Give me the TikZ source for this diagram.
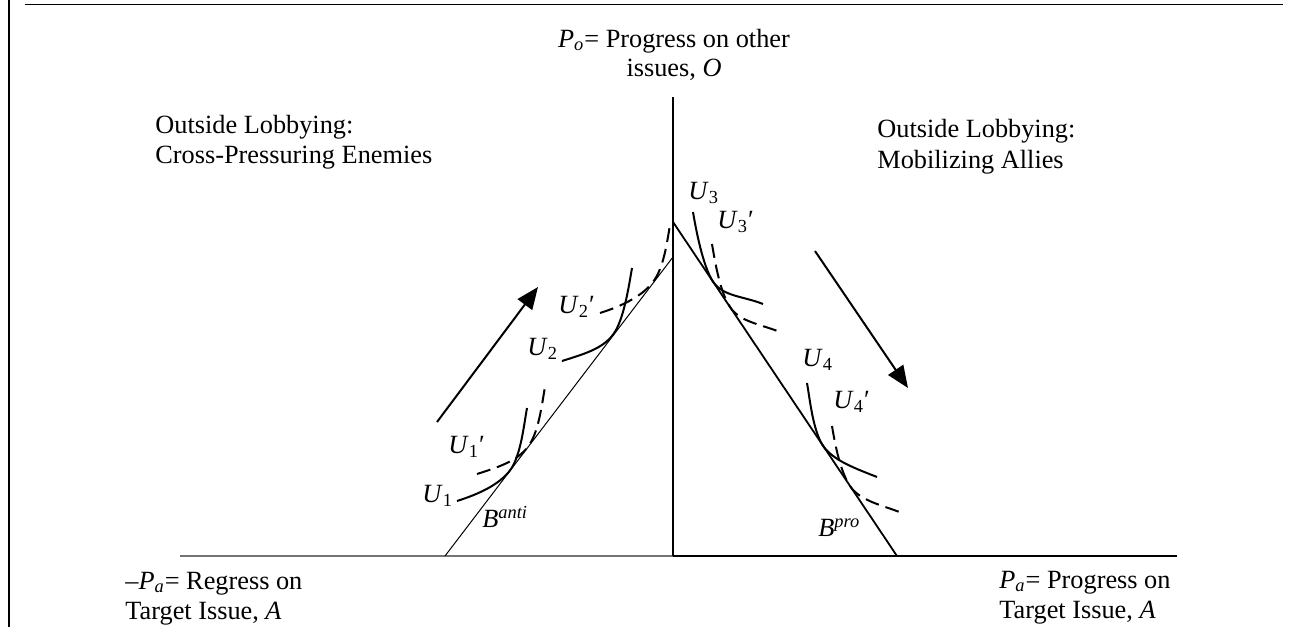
\documentclass[tikz,border=0pt]{standalone}
\usepackage{fontspec}
\setmainfont{Liberation Serif}
\usetikzlibrary{arrows.meta}
\begin{document}
\begin{tikzpicture}[x=0.5pt,y=-0.5pt,
  lbl/.style={inner sep=0pt, font=\fontsize{13.15pt}{15pt}\selectfont},
  curve/.style={line width=1pt},
  dcurve/.style={line width=1pt, dash pattern=on 7pt off 3.5pt},
  bigarrow/.style={line width=1pt, -{Triangle[length=11pt,width=9pt]}}]
\useasboundingbox (0,0) rectangle (1296,627);
% frame lines
\coordinate (fl1) at (9,0);
\coordinate (fl2) at (9,627);
\coordinate (tl1) at (25,4.5);
\coordinate (tl2) at (1283,4.5);
\draw[line width=0.8pt] (fl1) -- (fl2);
\draw[line width=0.8pt] (tl1) -- (tl2);
% axes
\coordinate (O) at (673,556);
\coordinate (yt) at (673,97);
\coordinate (xl) at (180,556);
\coordinate (xr) at (1177,556);
\draw[line width=0.6pt, black!55] (xl) -- (O);
\draw[line width=1pt] (O) -- (xr);
\draw[line width=0.8pt] (O) -- (yt);
% budget lines
\coordinate (ba1) at (445,556);
\coordinate (ba2) at (673,257);
\coordinate (bp1) at (673,222);
\coordinate (bp2) at (897,556);
\draw[line width=0.5pt] (ba1) -- (ba2);
\draw[line width=0.9pt] (bp1) -- (bp2);
% left indifference curves
\draw[curve] (457,501) .. controls (479,494) and (499.1,484.7) .. (510,470.4)
             .. controls (520.9,456.0) and (524,424) .. (527,408);
\draw[dcurve] (477,474) .. controls (499,467) and (517.1,461.0) .. (528,446.7)
             .. controls (538.9,432.4) and (542,403) .. (545,387);
\draw[curve] (562,361) .. controls (584,354) and (602.1,349.0) .. (613,334.7)
             .. controls (623.9,320.4) and (629,285) .. (632,268);
\draw[dcurve] (600,313) .. controls (622,306) and (642.1,296.3) .. (653,282)
             .. controls (663.9,267.7) and (667,242) .. (670,225);
% right indifference curves
\draw[curve] (693,212) .. controls (696,230) and (703.0,266.6) .. (713,281.6)
             .. controls (723.0,296.6) and (743,296) .. (763,304);
\draw[dcurve] (712,244) .. controls (715,262) and (720.0,292.0) .. (730,307)
             .. controls (740.0,322.0) and (760,324) .. (780,332);
\draw[curve] (807,383) .. controls (810,400) and (813.0,430.7) .. (823,445.7)
             .. controls (833.0,460.7) and (857,469) .. (877,477);
\draw[dcurve] (832,426) .. controls (835,444) and (840.0,471.0) .. (850,486)
             .. controls (860.0,501.0) and (882,505) .. (902,513);
% arrows
\coordinate (la1) at (437,422);
\coordinate (la2) at (538,287);
\coordinate (ra1) at (815,251);
\coordinate (ra2) at (908,388);
\draw[bigarrow] (la1) -- (la2);
\draw[bigarrow] (ra1) -- (ra2);
% curve labels
\node[lbl, anchor=west] (u1) at (422,496) {\textit{U}\textsubscript{1}};
\node[lbl, anchor=west] (u1p) at (448,447) {\textit{U}\textsubscript{1}′};
\node[lbl, anchor=west] (u2) at (527,349) {\textit{U}\textsubscript{2}};
\node[lbl, anchor=west] (u2p) at (558,307) {\textit{U}\textsubscript{2}′};
\node[lbl, anchor=west] (u3) at (688,193) {\textit{U}\textsubscript{3}};
\node[lbl, anchor=west] (u3p) at (717,222) {\textit{U}\textsubscript{3}′};
\node[lbl, anchor=west] (u4) at (802,360) {\textit{U}\textsubscript{4}};
\node[lbl, anchor=west] (u4p) at (833,402) {\textit{U}\textsubscript{4}′};
\node[lbl, anchor=west] (banti) at (482,517) {\textit{B}\textsuperscript{\textit{anti}}};
\node[lbl, anchor=west] (bpro) at (818,528) {\textit{B}\textsuperscript{\textit{pro}}};
% axis titles
\node[lbl, anchor=base] (po1) at (674,47) {\textit{P}\textsubscript{\textit{o}}= Progress on other};
\node[lbl, anchor=base] (po2) at (674,76) {issues, \textit{O}};
\node[lbl, anchor=base west] (l1) at (155,133) {Outside Lobbying:};
\node[lbl, anchor=base west] (l2) at (155,163) {Cross-Pressuring Enemies};
\node[lbl, anchor=base west] (r1) at (877,137) {Outside Lobbying:};
\node[lbl, anchor=base west] (r2) at (877,168) {Mobilizing Allies};
\node[lbl, anchor=base west] (bl1) at (125,589) {–\textit{P}\textsubscript{\textit{a}}= Regress on};
\node[lbl, anchor=base west] (bl2) at (125,619) {Target Issue, \textit{A}};
\node[lbl, anchor=base west] (br1) at (999,588) {\textit{P}\textsubscript{\textit{a}}= Progress on};
\node[lbl, anchor=base west] (br2) at (999,618) {Target Issue, \textit{A}};
\end{tikzpicture}
\end{document}
